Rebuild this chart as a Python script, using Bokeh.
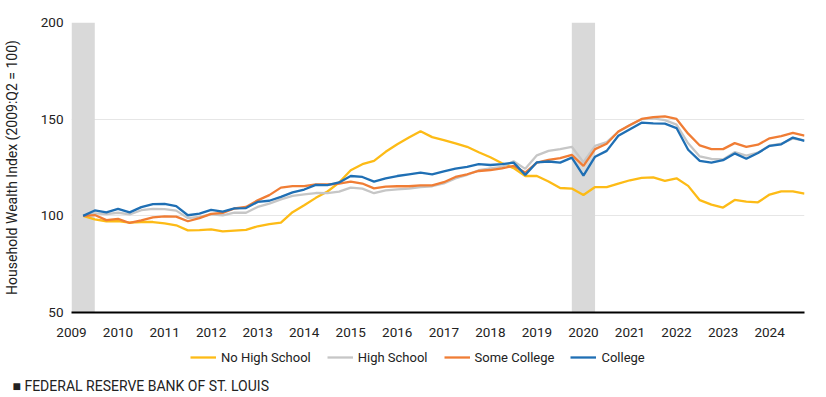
from bokeh.plotting import figure
from bokeh.layouts import column
from bokeh.models import Range1d, Legend, LegendItem, Title, FixedTicker
from bokeh.embed import file_html
from bokeh.resources import INLINE

# Quarterly observations, 2009:Q2 through 2024:Q4 (decimal year = year + (quarter-1)/4)
quarters = [(y, q) for y in range(2009, 2025) for q in range(1, 5)][1:]
t = [y + (q - 1) / 4 for y, q in quarters]

no_high_school = [100, 98.2, 97.2, 97.3, 96.5, 96.8, 96.8, 96.1, 95.1, 92.5,
                  92.6, 93.0, 92.0, 92.4, 92.7, 94.6, 95.7, 96.5, 101.9, 105.5,
                  109.3, 112.6, 117.2, 123.6, 126.7, 128.4, 133.1, 137.0, 140.5, 143.8,
                  140.7, 139.2, 137.5, 135.7, 132.9, 130.3, 127.2, 124.7, 120.6, 120.6,
                  117.8, 114.4, 114.1, 110.8, 114.9, 114.8, 116.7, 118.4, 119.6, 119.9,
                  118.1, 119.4, 115.5, 108.1, 105.8, 104.3, 108.2, 107.4, 107.0, 111.0,
                  112.7, 112.7, 111.5]
high_school = [100, 101.3, 100.9, 101.6, 100.7, 102.9, 103.6, 103.5, 102.7, 98.8,
               99.5, 100.8, 100.3, 101.6, 101.6, 104.6, 106.3, 108.5, 110.3, 111.1,
               111.8, 111.7, 112.5, 114.6, 114.1, 111.7, 113.2, 113.7, 114.1, 114.8,
               115.3, 116.8, 119.4, 121.2, 123.6, 124.6, 125.3, 128.2, 124.3, 131.3,
               133.6, 134.5, 135.7, 127.7, 136.2, 138.1, 143.5, 146.8, 150.0, 150.4,
               149.5, 147.2, 137.5, 130.7, 129.4, 129.2, 132.9, 131.1, 132.7, 136.3,
               137.3, 140.0, 139.0]
some_college = [100, 100.4, 97.8, 98.4, 96.3, 97.7, 99.2, 99.7, 99.6, 97.2,
                98.8, 101.0, 101.5, 103.8, 104.6, 108.0, 110.7, 114.6, 115.4, 115.4,
                116.3, 116.2, 116.7, 117.7, 116.7, 114.2, 115.1, 115.3, 115.3, 115.8,
                115.8, 117.4, 120.1, 121.5, 123.2, 123.7, 124.6, 125.8, 122.4, 127.5,
                128.9, 129.8, 131.5, 125.8, 134.5, 137.3, 143.6, 147.0, 150.1, 151.1,
                151.4, 150.1, 142.5, 136.4, 134.5, 134.5, 137.6, 135.7, 136.8, 140.1,
                141.2, 142.9, 141.5]
college = [100, 102.8, 101.8, 103.6, 101.8, 104.5, 106.1, 106.2, 105.0, 100.3,
           101.1, 103.1, 102.2, 103.9, 104.0, 107.2, 107.8, 109.8, 112.1, 113.6,
           116.0, 115.9, 117.3, 120.6, 120.1, 117.7, 119.4, 120.6, 121.5, 122.3,
           121.5, 123.0, 124.4, 125.3, 126.7, 126.3, 126.7, 127.5, 121.2, 127.7,
           128.1, 127.5, 130.1, 120.8, 130.6, 133.6, 141.4, 144.8, 148.2, 147.8,
           147.7, 145.4, 134.2, 128.4, 127.5, 128.8, 132.3, 129.5, 132.5, 136.2,
           137.0, 140.5, 138.8]

series_names = ["No High School", "High School", "Some College", "College"]
series_values = [no_high_school, high_school, some_college, college]
series_colors = ["#fdbb16", "#c6c6c6", "#f07d35", "#1f6fb4"]

recession_start = [2009.0, 2019.75]
recession_end = [2009.5, 2020.25]

year_ticks = list(range(2009, 2025))
y_ticks = [50, 100, 150, 200]
grid_ticks = [100, 150, 200]

FONT = "Roboto"
TXT = "#222222"
LINE_W = 2.3

# ---------------- main chart ----------------
p = figure(width=810, height=347, output_backend="svg", toolbar_location=None,
           x_range=Range1d(2009, 2024.75), y_range=Range1d(50, 200),
           min_border_left=63, min_border_right=6, min_border_top=22, min_border_bottom=35)
p.outline_line_color = None
p.background_fill_color = "white"
p.border_fill_color = "white"

p.quad(left=recession_start, right=recession_end, bottom=50, top=200,
       fill_color="#d9d9d9", line_color=None)

for vals, col in zip(series_values, series_colors):
    p.line(t, vals, line_color=col, line_width=LINE_W)

xa = p.xaxis[0]
xa.ticker = FixedTicker(ticks=year_ticks)
xa.axis_line_color = "black"
xa.axis_line_width = 2
xa.major_tick_line_color = None
xa.minor_tick_line_color = None
xa.major_tick_out = 0
xa.major_tick_in = 0
xa.major_label_standoff = 15
xa.major_label_text_font = FONT
xa.major_label_text_font_size = "13.5px"
xa.major_label_text_color = TXT

ya = p.yaxis[0]
ya.ticker = FixedTicker(ticks=y_ticks)
ya.axis_line_color = None
ya.major_tick_line_color = None
ya.minor_tick_line_color = None
ya.major_tick_out = 0
ya.major_tick_in = 0
ya.major_label_standoff = 8
ya.major_label_text_font = FONT
ya.major_label_text_font_size = "13.5px"
ya.major_label_text_color = TXT
ya.axis_label = "Household Wealth Index (2009:Q2 = 100)"
ya.axis_label_text_font = FONT
ya.axis_label_text_font_size = "14px"
ya.axis_label_text_font_style = "normal"
ya.axis_label_text_color = TXT
ya.axis_label_standoff = 18

p.xgrid.visible = False
p.ygrid.ticker = FixedTicker(ticks=grid_ticks)
p.ygrid.grid_line_color = "#e6e6e6"
p.ygrid.grid_line_width = 1

# ---------------- legend + source strip ----------------
# (frame aligned with the chart frame; series are outside this strip's ranges, only the key shows)
q = figure(width=810, height=48, output_backend="svg", toolbar_location=None,
           x_range=Range1d(0, 1), y_range=Range1d(0, 1),
           x_axis_type=None, y_axis_type=None,
           min_border_left=63, min_border_right=6, min_border_top=0, min_border_bottom=0)
q.outline_line_color = None
q.xgrid.visible = False
q.ygrid.visible = False
q.background_fill_color = "white"
q.border_fill_color = "white"

keys = [q.line(t, vals, line_color=col, line_width=LINE_W)
        for vals, col in zip(series_values, series_colors)]
legend = Legend(items=[LegendItem(label=n, renderers=[r]) for n, r in zip(series_names, keys)],
                orientation="horizontal", location=(119, 8),
                glyph_width=26, glyph_height=16, label_standoff=5, spacing=16,
                padding=0, margin=0, label_height=16,
                label_text_font=FONT, label_text_font_size="13px", label_text_color=TXT,
                border_line_color=None, background_fill_alpha=0)
q.add_layout(legend, "center")

q.title = Title(text="\u25A0 FEDERAL RESERVE BANK OF ST. LOUIS", align="left", offset=-59,
                text_font=FONT, text_font_size="14px", text_font_style="normal",
                text_color=TXT, standoff=4)
q.title_location = "below"

layout = column(p, q, spacing=0)
open("out.html", "w").write(file_html(layout, INLINE))
